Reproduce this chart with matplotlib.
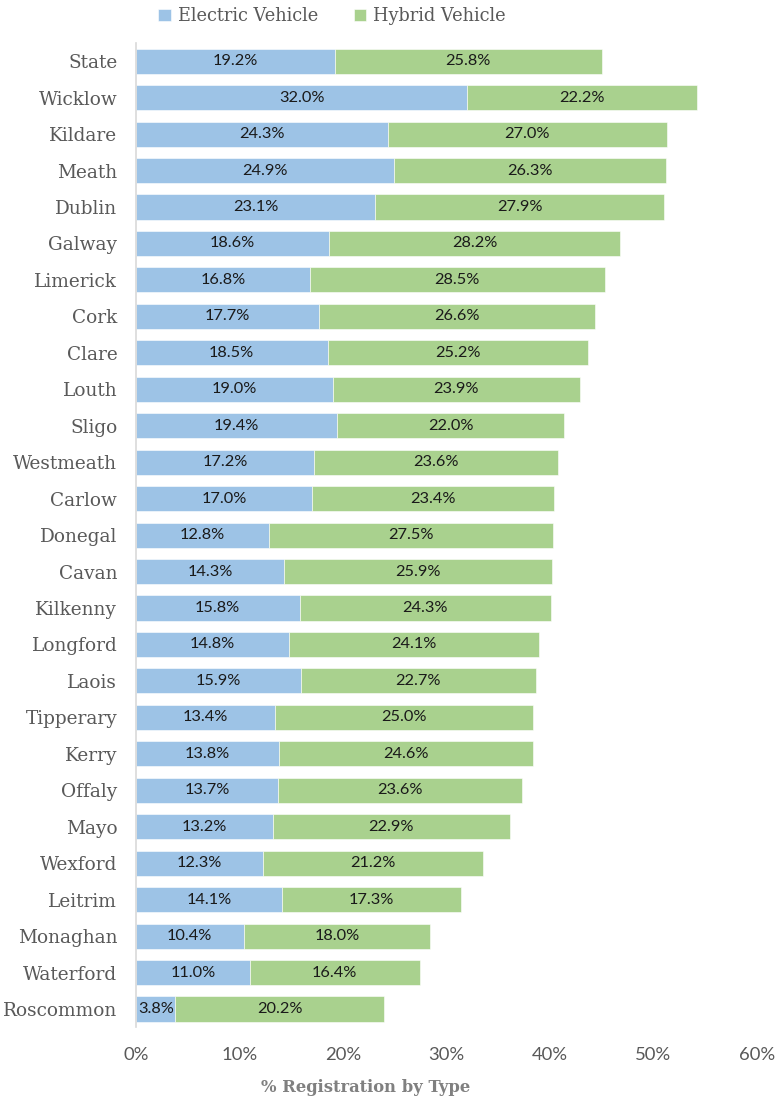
import matplotlib
matplotlib.use('Agg')
import matplotlib.pyplot as plt
import numpy as np

# --- Data: % of new registrations by county ---
counties = ["State", "Wicklow", "Kildare", "Meath", "Dublin", "Galway", "Limerick",
            "Cork", "Clare", "Louth", "Sligo", "Westmeath", "Carlow", "Donegal",
            "Cavan", "Kilkenny", "Longford", "Laois", "Tipperary", "Kerry", "Offaly",
            "Mayo", "Wexford", "Leitrim", "Monaghan", "Waterford", "Roscommon"]
electric = [19.2, 32.0, 24.3, 24.9, 23.1, 18.6, 16.8, 17.7, 18.5, 19.0, 19.4, 17.2,
            17.0, 12.8, 14.3, 15.8, 14.8, 15.9, 13.4, 13.8, 13.7, 13.2, 12.3, 14.1,
            10.4, 11.0, 3.8]
hybrid = [25.8, 22.2, 27.0, 26.3, 27.9, 28.2, 28.5, 26.6, 25.2, 23.9, 22.0, 23.6,
          23.4, 27.5, 25.9, 24.3, 24.1, 22.7, 25.0, 24.6, 23.6, 22.9, 21.2, 17.3,
          18.0, 16.4, 20.2]
x_ticks = [0, 10, 20, 30, 40, 50, 60]

BLUE = "#9DC3E6"
GREEN = "#A9D18E"
GREY = "#595959"
SERIF = "DejaVu Serif"
SANS = "Lato"

fig = plt.figure(figsize=(7.82, 11.01), dpi=100)
ax = fig.add_axes([0.174, 0.067, 0.794, 0.894])

y = np.arange(len(counties))
b1 = ax.barh(y, electric, height=0.69, color=BLUE, edgecolor="white", linewidth=0.4,
             label="Electric Vehicle")
b2 = ax.barh(y, hybrid, left=electric, height=0.69, color=GREEN, edgecolor="white",
             linewidth=0.4, label="Hybrid Vehicle")

for bars in (b1, b2):
    ax.bar_label(bars, labels=[f"{b.get_width():.1f}%" for b in bars],
                 label_type="center", fontsize=11.8, family=SANS, color="#1a1a1a")

ax.set_ylim(len(counties) - 0.5, -0.5)
ax.set_xlim(0, 60)
ax.set_yticks(y)
ax.set_yticklabels(counties, family=SERIF, fontsize=13.3, color=GREY)
ax.set_xticks(x_ticks)
ax.set_xticklabels([f"{t}%" for t in x_ticks], family=SANS, fontsize=13.3, color=GREY)
ax.tick_params(axis="y", length=0, pad=13.5)
ax.tick_params(axis="x", length=0, pad=14)

for side in ("top", "right", "bottom"):
    ax.spines[side].set_visible(False)
ax.spines["left"].set_color("#D9D9D9")
ax.spines["left"].set_linewidth(1.2)

fig.text(366 / 782, 1 - 1087 / 1101, "% Registration by Type", ha="center", va="center",
         family=SERIF, fontweight="bold", fontsize=11.8, color="#808080")

fig.legend(handles=[b1, b2], loc="center", bbox_to_anchor=(332 / 782, 1 - 16 / 1101),
           ncol=2, frameon=False, prop={"family": SERIF, "size": 12.8},
           labelcolor=GREY, handlelength=0.7, handleheight=0.7, handletextpad=0.4,
           columnspacing=2.0)

fig.savefig("out.png", dpi=100)
